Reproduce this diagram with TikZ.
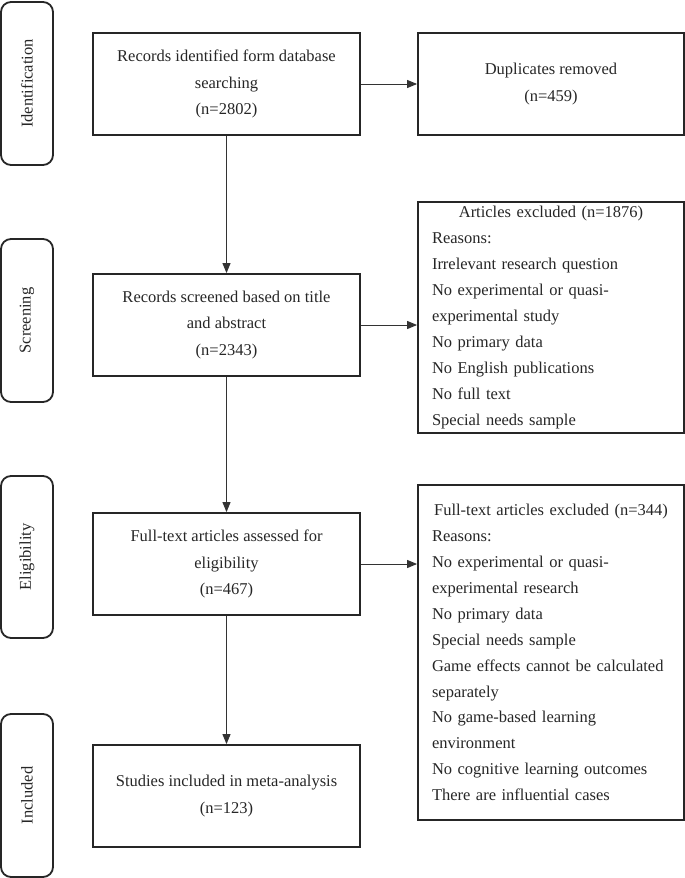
\documentclass[tikz,border=0pt]{standalone}
\usepackage{fontspec}
\setmainfont{Liberation Serif}
\usetikzlibrary{arrows.meta}
\begin{document}
\begin{tikzpicture}[x=1pt,y=-1pt,
  every node/.style={font=\fontsize{16.5}{26.8}\selectfont, text=black!85},
  box/.style={draw=black!85, line width=1.8pt, rectangle, inner sep=0pt, align=center, minimum width=267pt, minimum height=102pt},
  sidebox/.style={draw=black!85, line width=1.8pt, rectangle, inner sep=0pt, minimum width=266pt},
  listtext/.style={font=\fontsize{16.5}{25.9}\selectfont, text width=238pt, align=left},
  phase/.style={draw=black!85, line width=1.8pt, rounded corners=10pt, rotate=90, minimum height=52pt, inner sep=0pt},
  conn/.style={draw=black!80, line width=1pt, -{Triangle[length=10pt,width=8pt]}}]
\useasboundingbox (0,0) rectangle (685,878);

% phase labels
\node[phase, minimum width=163pt] (pid) at (27,83.5) {Identification};
\node[phase, minimum width=163pt] (psc) at (27,320.5) {Screening};
\node[phase, minimum width=162pt] (pel) at (27,557) {Eligibility};
\node[phase, minimum width=163pt] (pin) at (27,795.5) {Included};

% main boxes
\node[box] (b1) at (226.5,84) {Records identified form database\\searching\\(n=2802)};
\node[box] (b2) at (226.5,325) {Records screened based on title\\and abstract\\(n=2343)};
\node[box] (b3) at (226.5,564) {Full-text articles assessed for\\eligibility\\(n=467)};
\node[box] (b4) at (226.5,796) {Studies included in meta-analysis\\(n=123)};

% side boxes
\node[sidebox, align=center, minimum height=102pt] (dup) at (551,84) {Duplicates removed\\(n=459)};
\node[sidebox, listtext, minimum height=231pt] (ex1) at (551,317.5) {%
\makebox[238pt][c]{Articles excluded (n=1876)}\\
Reasons:\\
Irrelevant research question\\
No experimental or quasi-\\
experimental study\\
No primary data\\
No English publications\\
No full text\\
Special needs sample};
\node[sidebox, listtext, minimum height=335pt] (ex2) at (551,652.5) {%
\makebox[238pt][c]{Full-text articles excluded (n=344)}\\
Reasons:\\
No experimental or quasi-\\
experimental research\\
No primary data\\
Special needs sample\\
Game effects cannot be calculated\\
separately\\
No game-based learning\\
environment\\
No cognitive learning outcomes\\
There are influential cases};

% connectors
\draw[conn] (b1.south) -- (b2.north);
\draw[conn] (b2.south) -- (b3.north);
\draw[conn] (b3.south) -- (b4.north);
\draw[conn] (b1.east) -- (dup.west);
\draw[conn] (b2.east) -- (b2.east -| ex1.west);
\draw[conn] (b3.east) -- (b3.east -| ex2.west);
\end{tikzpicture}
\end{document}
